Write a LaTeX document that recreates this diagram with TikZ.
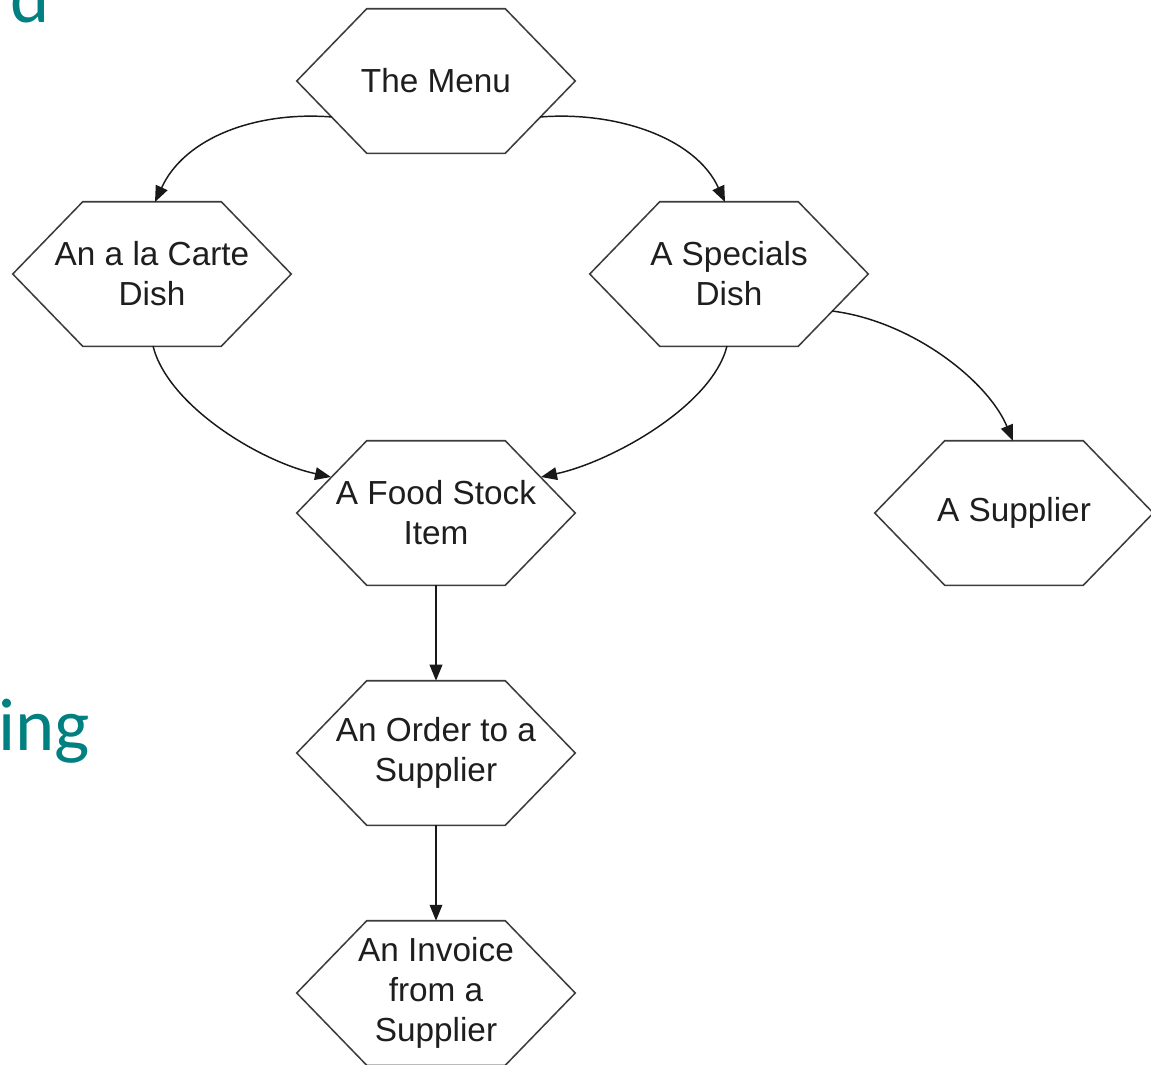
\documentclass[tikz,border=0pt]{standalone}
\usepackage{fontspec}
\setmainfont{Liberation Sans}
\newfontfamily\titlefont{Carlito}
\usetikzlibrary{calc,arrows.meta}
\definecolor{hexline}{RGB}{60,60,60}
\definecolor{labeltext}{RGB}{30,30,30}
\definecolor{titleteal}{RGB}{0,128,128}
\tikzset{
  entity/.style={inner sep=0pt, minimum width=208.5pt, minimum height=108pt,
    align=center, text=labeltext, font=\fontsize{25}{30}\selectfont},
  hexedge/.style={draw=hexline, line width=1.15pt, line join=miter},
  link/.style={draw=black!90, line width=1.1pt, -{Triangle[length=12pt,width=9.5pt]}},
  heading/.style={text=titleteal, font=\titlefont\fontsize{56}{56}\selectfont,
    inner sep=0pt, anchor=base east},
}
\begin{document}
\begin{tikzpicture}[x=0.75pt,y=-0.75pt]
\useasboundingbox (0,0) rectangle (1151,1064);
\clip (0,0) rectangle (1151,1064);
\fill[white] (0,0) rectangle (1151,1064);

% slide title fragments
\node[heading] (headA) at (50,22) {d};
\node[heading] (headB) at (90,750) {ring};

% entities
\node[entity] (menu)     at (436,81)   {The Menu};
\node[entity] (carte)    at (152,274)  {An a la Carte\\Dish};
\node[entity] (special)  at (729,274)  {A Specials\\Dish};
\node[entity] (stock)    at (436,513)  {A Food Stock\\Item};
\node[entity] (supplier) at (1014,513) {A Supplier};
\node[entity] (order)    at (436,753)  {An Order to a\\Supplier};
\node[entity] (invoice)  at (436,993)  {An Invoice\\from a\\Supplier};

% hexagonal outlines
\foreach \n in {menu,carte,special,stock,supplier,order,invoice}
  \draw[hexedge] (\n.west) -- ([xshift=52.5pt]\n.north west)
    -- ([xshift=-52.5pt]\n.north east) -- (\n.east)
    -- ([xshift=-52.5pt]\n.south east) -- ([xshift=52.5pt]\n.south west) -- cycle;

% relationships
\draw[link] ($(menu)+(-104,36)$) .. controls +(-75,-6) and +(30,-65) .. ($(carte)+(3,-72)$);
\draw[link] ($(menu)+(104,36)$) .. controls +(75,-6) and +(-30,-65) .. ($(special)+(-4,-72)$);
\draw[link] ($(carte)+(1,72)$) .. controls +(15,60) and +(-70,-15) .. ($(stock)+(-105,-36)$);
\draw[link] ($(special)+(-2,72)$) .. controls +(-15,60) and +(70,-15) .. ($(stock)+(105,-36)$);
\draw[link] ($(special)+(103,37)$) .. controls +(80,10) and +(-25,-60) .. ($(supplier)+(-1,-72)$);
\draw[link] (stock.south) -- (order.north);
\draw[link] (order.south) -- (invoice.north);
\end{tikzpicture}
\end{document}
